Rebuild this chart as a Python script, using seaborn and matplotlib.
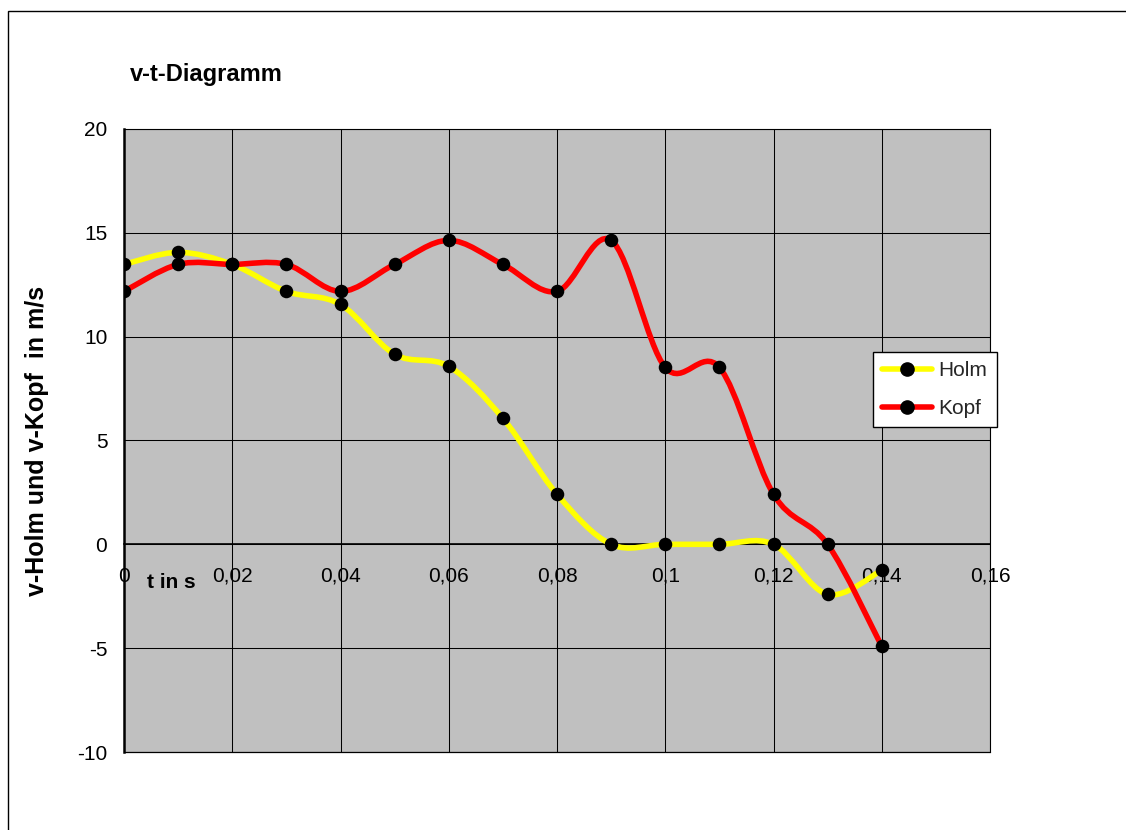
import numpy as np
import pandas as pd
import matplotlib
matplotlib.use("Agg")
import matplotlib.pyplot as plt
from matplotlib.path import Path
from matplotlib.patches import PathPatch, Rectangle
from matplotlib.lines import Line2D
from matplotlib.ticker import FuncFormatter, MultipleLocator
import seaborn as sns

# Messwerte
t = [0.00, 0.01, 0.02, 0.03, 0.04, 0.05, 0.06, 0.07, 0.08, 0.09, 0.10, 0.11, 0.12, 0.13, 0.14]
v_holm = [13.48, 14.06, 13.48, 12.18, 11.55, 9.15, 8.57, 6.07, 2.41, 0.0, 0.0, 0.0, 0.0, -2.41, -1.25]
v_kopf = [12.18, 13.48, 13.48, 13.48, 12.18, 13.48, 14.64, 13.48, 12.18, 14.64, 8.52, 8.52, 2.41, 0.0, -4.91]

series_names = ["Holm", "Kopf"]
series_colors = {"Holm": "#FFFF00", "Kopf": "#FF0000"}

df = pd.DataFrame({
    "t": t * 2,
    "v": v_holm + v_kopf,
    "Reihe": ["Holm"] * len(t) + ["Kopf"] * len(t),
})

sns.set_theme(style="white")
plt.rcParams["font.family"] = ["Liberation Sans", "DejaVu Sans"]

fig = plt.figure(figsize=(11.26, 8.30), dpi=100)
ax = fig.add_axes([124 / 1126, 1 - 752 / 830, 866 / 1126, 623 / 830])
ax.set_facecolor("#C0C0C0")


def smooth_path(x, y):
    """Geglaettete Verbindungslinie als Bezier-Pfad durch die Messpunkte."""
    pts = np.column_stack([x, y]).astype(float)
    n = len(pts)
    verts = [pts[0]]
    codes = [Path.MOVETO]
    for i in range(n - 1):
        p0 = pts[i - 1] if i > 0 else pts[i]
        p1 = pts[i]
        p2 = pts[i + 1]
        p3 = pts[i + 2] if i + 2 < n else pts[i + 1]
        c1 = p1 + (p2 - p0) / 6.0
        c2 = p2 - (p3 - p1) / 6.0
        verts += [c1, c2, p2]
        codes += [Path.CURVE4] * 3
    return Path(verts, codes)


for name in series_names:
    sub = df[df["Reihe"] == name]
    patch = PathPatch(smooth_path(sub["t"].values, sub["v"].values), facecolor="none",
                      edgecolor=series_colors[name], lw=4.0, zorder=3,
                      capstyle="round", joinstyle="round")
    ax.add_patch(patch)

sns.scatterplot(data=df, x="t", y="v", color="black", s=95, edgecolor="black",
                linewidth=0, zorder=4, legend=False, ax=ax)

ax.set_xlim(0, 0.16)
ax.set_ylim(-10, 20)
ax.xaxis.set_major_locator(MultipleLocator(0.02))
ax.yaxis.set_major_locator(MultipleLocator(5))


def komma(val, pos):
    s = "%g" % round(val, 4)
    return s.replace(".", ",")


ax.xaxis.set_major_formatter(FuncFormatter(komma))
ax.yaxis.set_major_formatter(FuncFormatter(komma))

ax.grid(True, color="black", lw=0.75)
ax.set_axisbelow(True)
ax.axhline(-10, color="black", lw=0.9, clip_on=False, zorder=1)

for side in ["top", "right"]:
    ax.spines[side].set_color("black")
    ax.spines[side].set_linewidth(0.8)
ax.spines["left"].set_color("black")
ax.spines["left"].set_linewidth(1.8)
ax.spines["bottom"].set_position(("data", 0))
ax.spines["bottom"].set_color("black")
ax.spines["bottom"].set_linewidth(1.2)
ax.spines["bottom"].set_zorder(2)

ax.tick_params(axis="x", direction="out", length=6, width=1, color="black",
               labelsize=15, pad=10, labelcolor="black")
ax.tick_params(axis="y", direction="out", length=6, width=1, color="black",
               labelsize=15, pad=6, labelcolor="black")
for lab in ax.get_xticklabels():
    lab.set_zorder(2)

ax.set_xlabel("")
ax.set_ylabel("v-Holm und v-Kopf  in m/s", fontsize=18, fontweight="bold",
              color="black", labelpad=20)
ax.text(0.0087, -1.85, "t in s", fontsize=15, fontweight="bold", color="black",
        ha="center", va="center", zorder=2)

fig.text(130 / 1126, 1 - 74 / 830, "v-t-Diagramm", fontsize=17, fontweight="bold",
         color="black", ha="left", va="center")

handles = [Line2D([0], [0], color=series_colors[n], lw=4.0, marker="o", markersize=9.5,
                  markerfacecolor="black", markeredgecolor="black") for n in series_names]
leg = ax.legend(handles, series_names, loc="upper left",
                bbox_to_anchor=((873 - 124) / 866, (752 - 352) / 623),
                frameon=True, fancybox=False, edgecolor="black", facecolor="white",
                framealpha=1, fontsize=15, handlelength=2.4, borderpad=0.45,
                labelspacing=0.9, handletextpad=0.3, borderaxespad=0)
leg.get_frame().set_linewidth(1.0)
leg.set_zorder(5)

# Rahmen des Diagrammbereichs
fig.patches.append(Rectangle((8 / 1126, -0.2), 1.2, 1 - 11 / 830 + 0.2,
                             transform=fig.transFigure, fill=False,
                             edgecolor="black", lw=1.0, zorder=0))

fig.savefig("out.png", dpi=100, facecolor="white")
